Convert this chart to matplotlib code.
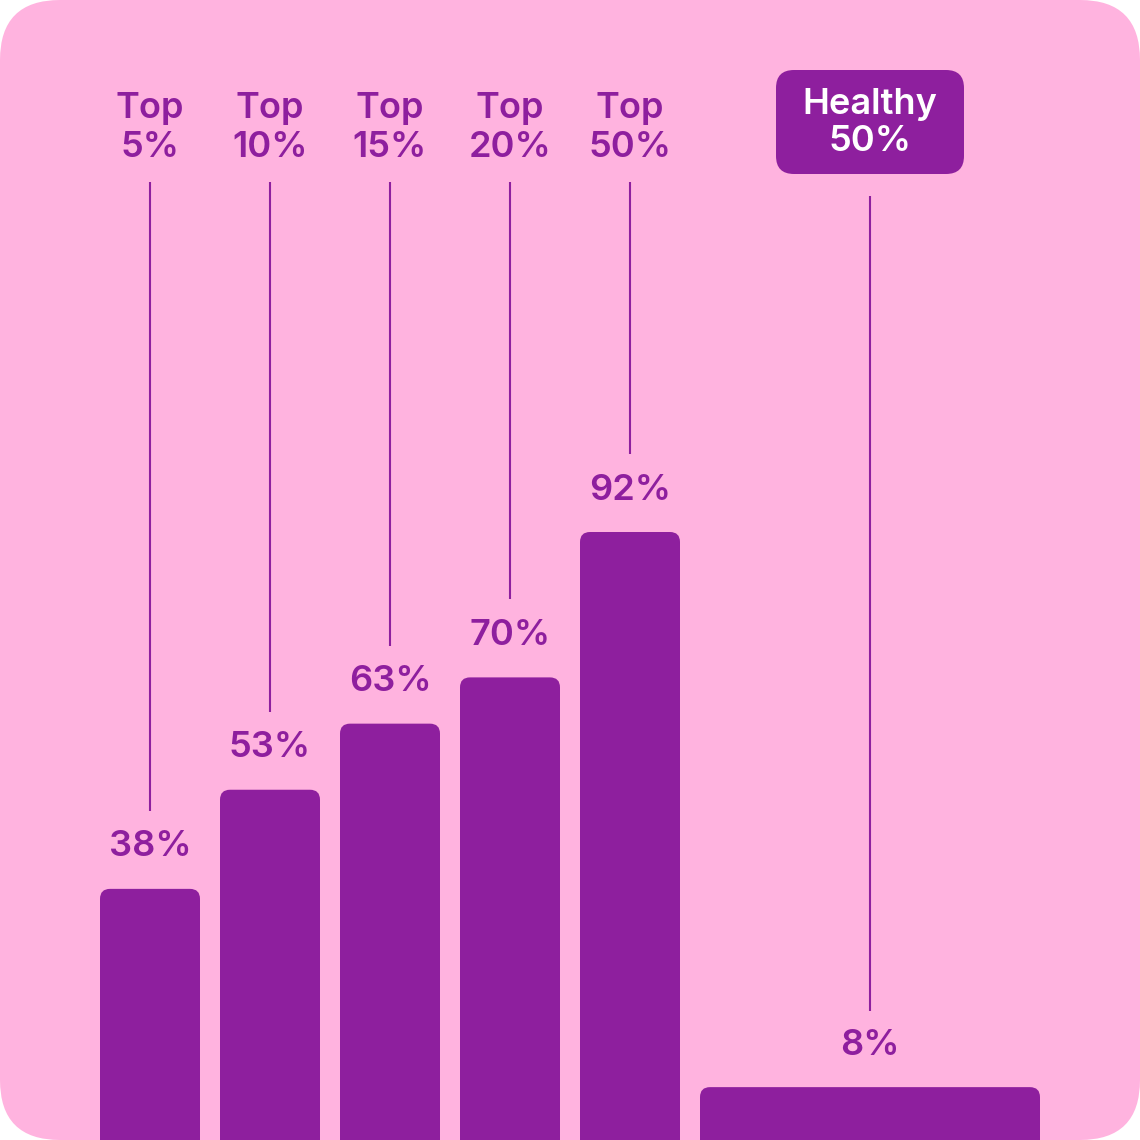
import matplotlib.pyplot as plt
from matplotlib.patches import FancyBboxPatch
from matplotlib.transforms import blended_transform_factory

plt.rcParams["font.family"] = ["Inter", "DejaVu Sans"]

# data
groups = ["Top\n5%", "Top\n10%", "Top\n15%", "Top\n20%", "Top\n50%"]
group_values = [38, 53, 63, 70, 92]
healthy_label = "Healthy\n50%"
healthy_value = 8

PINK = "#FFB3DF"
PURPLE = "#8E1F9E"

W = H = 1140
fig = plt.figure(figsize=(W / 100, H / 100), dpi=100)
fig.patch.set_facecolor("white")

# rounded pink card behind everything
card = FancyBboxPatch((0, 0), 1, 1, boxstyle="round,pad=0,rounding_size=%f" % (60 / W),
                      transform=fig.transFigure, facecolor=PINK, linewidth=0, zorder=-5)
fig.patches.append(card)

ax = fig.add_axes([0, 0, 1, 1])
ax.set_facecolor("none")
ax.axis("off")

xmin, xmax = -1.25, 8.25
ymax = 172.5
ax.set_xlim(xmin, xmax)
ax.set_ylim(0, ymax)
px_x = W / (xmax - xmin)
px_y = H / ymax

xs = list(range(len(groups))) + [6]
values = group_values + [healthy_value]
widths = [100 / px_x] * len(groups) + [340 / px_x]

bars = ax.bar(xs, values, width=widths, color=PURPLE)
for b in bars:
    x0, w, h = b.get_x(), b.get_width(), b.get_height()
    b.remove()
    # extend below the axis so only the top corners look rounded
    patch = FancyBboxPatch((x0, -5), w, h + 5,
                           boxstyle="round,pad=0,rounding_size=%f" % (10 / px_x),
                           mutation_aspect=px_x / px_y,
                           facecolor=PURPLE, linewidth=0, zorder=2)
    ax.add_patch(patch)

trans = blended_transform_factory(ax.transData, ax.transAxes)
fs = 26

for x, v in zip(xs, values):
    ax.text(x, v + 42 / px_y, f"{v}%", ha="center", va="center",
            fontsize=fs, fontweight="semibold", color=PURPLE)

# leader lines
for x, v in zip(xs[:-1], group_values):
    ax.vlines(x, v + 78 / px_y, (H - 182) / px_y, color=PURPLE, linewidth=1.5)
ax.vlines(xs[-1], healthy_value + 76 / px_y, (H - 196) / px_y, color=PURPLE, linewidth=1.5)

# header labels
for x, lab in zip(xs[:-1], groups):
    ax.text(x, 1 - 128 / H, lab, transform=trans, ha="center", va="center",
            fontsize=fs, fontweight="semibold", color=PURPLE, linespacing=1.25)

# healthy box
cx = (xs[-1] - xmin) / (xmax - xmin)
bw, bh = 188 / W, 104 / H
box = FancyBboxPatch((cx - bw / 2, 1 - 174 / H), bw, bh,
                     boxstyle="round,pad=0,rounding_size=%f" % (18 / W),
                     transform=fig.transFigure, facecolor=PURPLE, linewidth=0, zorder=3)
fig.patches.append(box)
fig.text(cx, 1 - 123 / H, healthy_label, ha="center", va="center", fontsize=fs,
         fontweight="semibold", color="white", linespacing=1.15, zorder=4)

fig.savefig("out.png", dpi=100, facecolor=fig.get_facecolor())
